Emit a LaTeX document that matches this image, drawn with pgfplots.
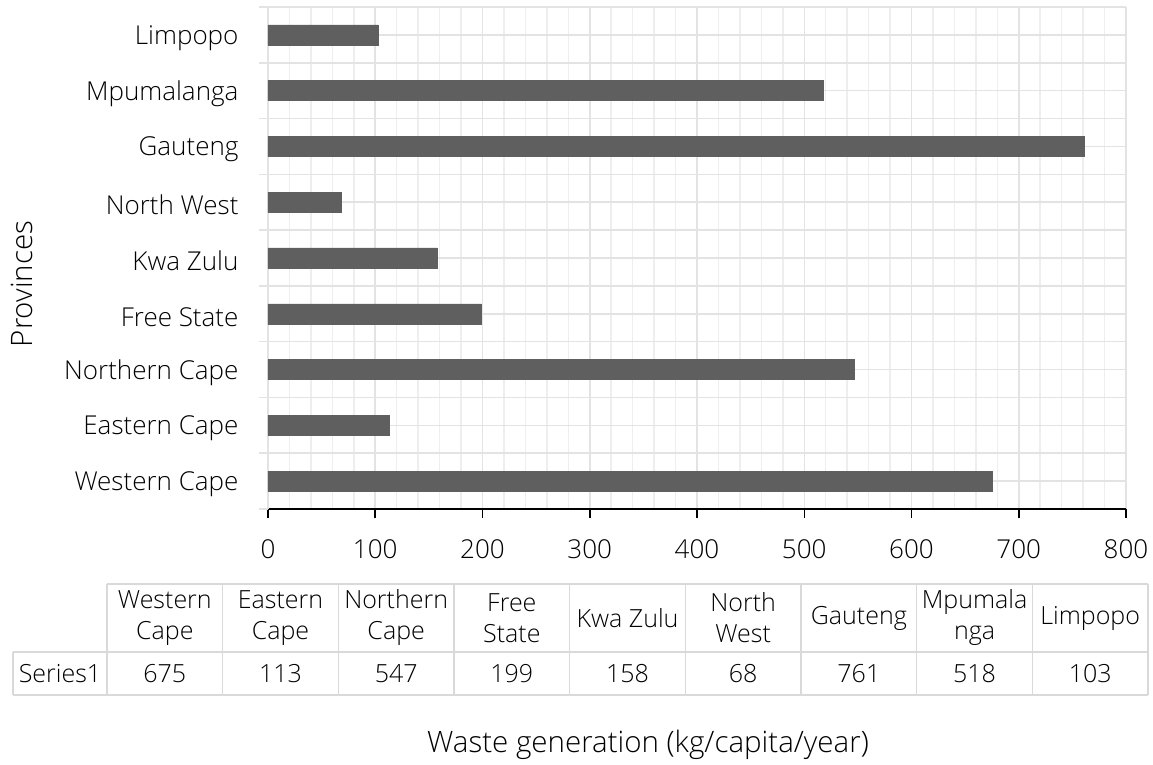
\documentclass[border=0pt]{standalone}
\usepackage{fontspec}
\IfFontExistsTF{Open Sans Light}{\setmainfont{Open Sans Light}}{\setmainfont{Open Sans}}
\usepackage{pgfplots}
\pgfplotsset{compat=1.18}
\definecolor{barfill}{HTML}{5F5F5F}
\definecolor{gridmaj}{HTML}{E3E3E3}
\definecolor{gridmin}{HTML}{EEEEEE}
\definecolor{tablerule}{HTML}{D9D9D9}
\newcommand\tickfont{\fontsize{26}{31}\selectfont}
\newcommand\titlefont{\fontsize{29.5}{35}\selectfont}
\newcommand\tabfont{\fontsize{25}{31}\selectfont}
\begin{document}
\begin{tikzpicture}[x=1pt,y=1pt]
% page frame; the axis box sits with its lower left corner at the origin
\path[use as bounding box] (-268,-256) rectangle (885,509);
\begin{axis}[
  scale only axis, width=858pt, height=502pt,
  xbar, bar width=20pt,
  xmin=0, xmax=800, ymin=-0.5, ymax=8.5,
  axis lines*=left,
  x axis line style={black, line width=1.5pt},
  y axis line style={gridmaj, line width=1.5pt},
  tick align=outside,
  major tick length=9pt,
  minor tick length=0pt,
  xtick={0,100,...,800},
  minor x tick num=4,
  xtick style={black, line width=1.5pt},
  ytick style={gridmaj, line width=1.5pt},
  ytick={-0.5,0.5,...,8.5}, yticklabels={},
  extra y ticks={0,1,2,3,4,5,6,7,8},
  extra y tick labels={Western Cape,Eastern Cape,Northern Cape,Free State,Kwa Zulu,North West,Gauteng,Mpumalanga,Limpopo},
  extra y tick style={major tick length=0pt, grid=major},
  grid=both,
  major grid style={gridmaj, line width=1.5pt},
  minor grid style={gridmin, line width=1.5pt},
  /pgf/number format/assume math mode=true,
  xticklabel style={font=\tickfont, text=black, yshift=-18pt},
  yticklabel style={font=\tickfont, text=black, xshift=-26pt, yshift=-3pt},
]
\addplot[fill=barfill, draw=barfill] coordinates {
  (675,0) (113,1) (547,2) (199,3) (158,4) (68,5) (761,6) (518,7) (103,8)
};
\end{axis}
% axis titles
\node[font=\titlefont] at (380,-236) {Waste generation (kg/capita/year)};
\node[font=\titlefont, rotate=90] at (-246,225) {Provinces};
% data table
\begin{scope}[tablerule, line width=1.5pt]
  \draw (-161,-75) -- (880,-75);
  \draw (-255,-143) -- (880,-143);
  \draw (-255,-186) -- (880,-186);
  \draw (-255,-186) -- (-255,-143);
  \foreach \k in {0,...,9} \draw ({-161+115.67*\k},-186) -- ({-161+115.67*\k},-75);
\end{scope}
\node[font=\tabfont] at (-208,-164.5) {Series1};
\foreach \name/\val [count=\k from 0] in {
  {Western\\Cape}/675, {Eastern\\Cape}/113, {Northern\\Cape}/547,
  {Free\\State}/199, {Kwa Zulu}/158, {North\\West}/68,
  {Gauteng}/761, {Mpumala\\nga}/518, {Limpopo}/103} {
  \node[font=\tabfont, align=center, inner sep=0pt] at ({-161+115.67*(\k+0.5)},-109) {\name};
  \node[font=\tabfont, inner sep=0pt] at ({-161+115.67*(\k+0.5)},-164.5) {\val};
}
\end{tikzpicture}
\end{document}
